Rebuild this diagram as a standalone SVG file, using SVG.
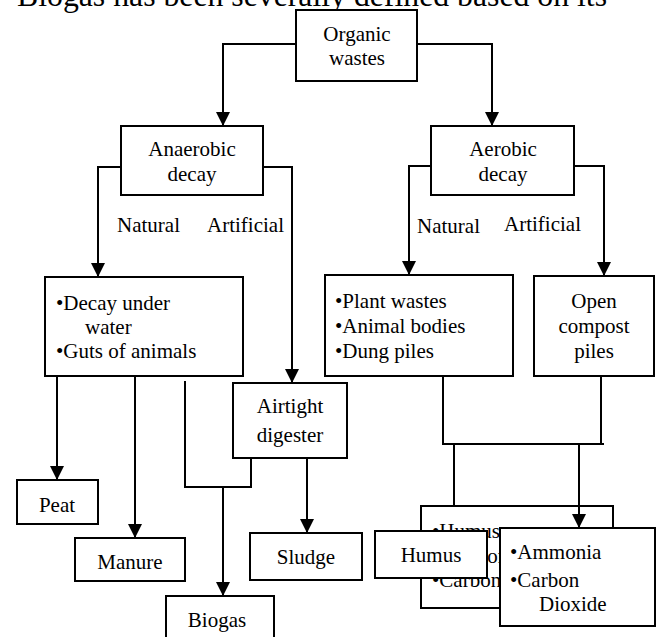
<svg xmlns="http://www.w3.org/2000/svg" width="661" height="637" viewBox="0 0 661 637">
<style>
text{font-family:"Liberation Serif","Times New Roman",serif;font-size:21px;fill:#000}
.c{text-anchor:middle}
.box{fill:#fff;stroke:#000;stroke-width:2}
.ln{fill:none;stroke:#000;stroke-width:2}
.title{font-size:31px}
</style>
<defs>
<marker id="ah" markerUnits="userSpaceOnUse" markerWidth="14" markerHeight="14" refX="14" refY="7" orient="auto" viewBox="0 0 14 14">
<path d="M0,0 L14,7 L0,14 z" fill="#000"/>
</marker>
</defs>
<rect width="661" height="637" fill="#fff"/>
<text class="title" x="17" y="6" textLength="590" lengthAdjust="spacingAndGlyphs">Biogas has been severally defined based on its</text>

<g id="organic"><rect class="box" x="296" y="10" width="121" height="71"/><text class="c" x="357" y="41">Organic</text><text class="c" x="357" y="65">wastes</text></g>
<g id="anaerobic"><rect class="box" x="121" y="126" width="142" height="69"/><text class="c" x="192" y="156">Anaerobic</text><text class="c" x="192" y="181">decay</text></g>
<g id="aerobic"><rect class="box" x="431" y="126" width="143" height="69"/><text class="c" x="503" y="156">Aerobic</text><text class="c" x="503" y="181">decay</text></g>
<g id="labels"><text x="117" y="232">Natural</text><text x="207" y="232">Artificial</text><text x="417" y="233">Natural</text><text x="504" y="231">Artificial</text></g>
<g id="decay"><rect class="box" x="45" y="277" width="198" height="99"/><text x="56" y="310">•Decay under</text><text x="85" y="334">water</text><text x="56" y="358">•Guts of animals</text></g>
<g id="plant"><rect class="box" x="325" y="275" width="188" height="101"/><text x="335" y="308">•Plant wastes</text><text x="335" y="333">•Animal bodies</text><text x="335" y="358">•Dung piles</text></g>
<g id="compost"><rect class="box" x="534" y="276" width="120" height="100"/><text class="c" x="594" y="308">Open</text><text class="c" x="594" y="333">compost</text><text class="c" x="594" y="358">piles</text></g>
<g id="airtight"><rect class="box" x="233" y="383" width="114" height="75"/><text class="c" x="290" y="413">Airtight</text><text class="c" x="290" y="442">digester</text></g>
<g id="peat"><rect class="box" x="17" y="480" width="81" height="44"/><text class="c" x="57" y="512">Peat</text></g>
<g id="manure"><rect class="box" x="75" y="538" width="110" height="43"/><text class="c" x="130" y="569">Manure</text></g>
<g id="sludge"><rect class="box" x="250" y="533" width="112" height="47"/><text class="c" x="306" y="564">Sludge</text></g>
<g id="biogas"><rect class="box" x="166" y="596" width="108" height="50"/><text class="c" x="217" y="627">Biogas</text></g>
<g id="products"><rect class="box" x="421" y="506" width="192" height="102"/><text x="432" y="538">•Humus</text><text x="432" y="563">•Ammonia</text><text x="432" y="587">•Carbon Dioxide</text></g>
<g id="humus"><rect class="box" x="375" y="531" width="112" height="47"/><text class="c" x="431" y="562">Humus</text></g>
<g id="ammonia"><rect class="box" x="500" y="528" width="155" height="98"/><text x="510" y="559">•Ammonia</text><text x="510" y="587">•Carbon</text><text x="539" y="611">Dioxide</text></g>

<g id="connectors">
<path class="ln" d="M296,44 H223 V126" marker-end="url(#ah)"/>
<path class="ln" d="M417,44 H492 V126" marker-end="url(#ah)"/>
<path class="ln" d="M121,167 H98 V277" marker-end="url(#ah)"/>
<path class="ln" d="M263,167 H292 V383" marker-end="url(#ah)"/>
<path class="ln" d="M431,166 H409 V275" marker-end="url(#ah)"/>
<path class="ln" d="M574,166 H604 V276" marker-end="url(#ah)"/>
<path class="ln" d="M57,376 V480" marker-end="url(#ah)"/>
<path class="ln" d="M135,376 V538" marker-end="url(#ah)"/>
<path class="ln" d="M185,381 V487 H251 V458"/>
<path class="ln" d="M223,487 V596" marker-end="url(#ah)"/>
<path class="ln" d="M307,458 V533" marker-end="url(#ah)"/>
<path class="ln" d="M443,376 V444 H604"/>
<path class="ln" d="M601,376 V443"/>
<path class="ln" d="M454,444 V506"/>
<path class="ln" d="M579,443 V528" marker-end="url(#ah)"/>
</g>
</svg>
